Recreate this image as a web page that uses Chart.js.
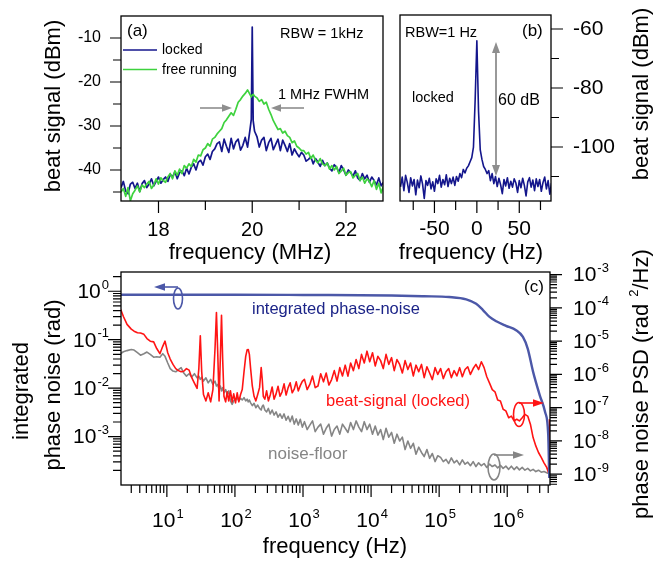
<!DOCTYPE html>
<html>
<head>
<meta charset="utf-8">
<script src="https://cdn.jsdelivr.net/npm/chart.js@4.4.1/dist/chart.umd.min.js"></script>
<style>
  html, body { margin: 0; padding: 0; background: #fff; }
  #wrap { position: relative; width: 658px; height: 561px; }
  canvas { position: absolute; left: 0; top: 0; }
</style>
</head>
<body>
<div id="wrap">
  <canvas id="chartA" width="658" height="561"></canvas>
  <canvas id="chartB" width="658" height="561"></canvas>
  <canvas id="chartC" width="658" height="561"></canvas>
</div>
<script>
// ---- panel (a): beat spectrum, RBW 1 kHz (MHz / dBm)
const freqA = [
  17.20, 17.25, 17.30, 17.35, 17.40, 17.45, 17.50, 17.55, 17.60, 17.65,
  17.70, 17.75, 17.80, 17.85, 17.90, 17.95, 18.00, 18.05, 18.10, 18.15,
  18.20, 18.25, 18.30, 18.35, 18.40, 18.45, 18.50, 18.55, 18.60, 18.65,
  18.70, 18.75, 18.80, 18.85, 18.90, 18.95, 19.00, 19.05, 19.10, 19.15,
  19.20, 19.25, 19.30, 19.35, 19.40, 19.45, 19.50, 19.55, 19.60, 19.65,
  19.70, 19.75, 19.80, 19.85, 19.90, 19.95, 19.98, 20.00, 20.02, 20.05,
  20.10, 20.15, 20.20, 20.25, 20.30, 20.35, 20.40, 20.45, 20.50, 20.55,
  20.60, 20.65, 20.70, 20.75, 20.80, 20.85, 20.90, 20.95, 21.00, 21.05,
  21.10, 21.15, 21.20, 21.25, 21.30, 21.35, 21.40, 21.45, 21.50, 21.55,
  21.60, 21.65, 21.70, 21.75, 21.80, 21.85, 21.90, 21.95, 22.00, 22.05,
  22.10, 22.15, 22.20, 22.25, 22.30, 22.35, 22.40, 22.45, 22.50, 22.55,
  22.60, 22.65, 22.70, 22.75, 22.80
];
const lockedA = [
  -44.0, -42.6, -44.8, -45.4, -43.2, -42.8, -44.2, -43.0, -44.9, -43.1,
  -42.4, -44.0, -43.2, -42.0, -43.6, -42.6, -41.6, -43.0, -42.2, -41.6,
  -42.6, -41.0, -41.6, -40.4, -42.0, -40.6, -40.2, -41.3, -39.6, -40.9,
  -39.4, -38.6, -40.0, -38.2, -37.8, -38.9, -37.0, -36.4, -37.6, -35.8,
  -35.2, -34.0, -33.6, -35.8, -33.0, -34.6, -36.0, -32.8, -35.2, -33.6,
  -33.0, -35.5, -34.4, -32.6, -34.8, -31.0, -28.5, -7.5, -28.8, -31.2,
  -32.4, -34.8, -33.2, -32.6, -35.6, -33.8, -32.8, -35.4, -34.2, -33.0,
  -35.6, -33.2, -34.4, -35.8, -34.0, -36.6, -35.2, -36.2, -37.0, -36.0,
  -36.6, -38.0, -37.6, -37.0, -38.6, -37.4, -38.2, -39.2, -37.8, -39.0,
  -38.4, -39.6, -40.2, -38.8, -39.4, -40.6, -39.0, -40.0, -41.2, -40.0,
  -40.6, -41.4, -40.2, -41.8, -42.4, -40.8, -42.0, -41.2, -42.8, -41.6,
  -42.4, -43.4, -41.8, -43.6, -42.8
];
const freeA = [
  -45.0, -44.2, -46.0, -44.0, -47.0, -45.4, -44.6, -43.6, -45.0, -43.4,
  -44.0, -43.2, -42.6, -44.2, -43.4, -42.0, -43.2, -41.8, -42.4, -42.8,
  -41.6, -40.8, -42.0, -40.2, -41.2, -39.8, -40.8, -39.0, -39.6, -38.6,
  -39.2, -37.6, -38.2, -36.6, -36.8, -35.4, -35.0, -34.0, -34.6, -33.0,
  -32.6, -31.8, -31.2, -30.6, -29.2, -28.6, -27.8, -27.0, -27.6, -26.2,
  -24.6, -24.0, -23.2, -22.6, -21.8, -22.8, -23.4, -23.0, -22.8, -23.2,
  -23.6, -24.4, -24.0, -25.0, -24.6, -26.2, -27.4, -28.8, -29.8, -30.8,
  -30.6, -31.6, -31.2, -32.2, -32.6, -33.8, -33.4, -34.6, -35.0, -35.6,
  -35.6, -36.4, -36.0, -37.4, -36.6, -37.8, -38.4, -37.4, -38.6, -39.0,
  -38.4, -39.8, -39.0, -40.0, -39.2, -40.8, -40.2, -39.6, -41.2, -40.6,
  -40.4, -41.8, -41.2, -40.8, -42.4, -41.6, -43.0, -42.0, -42.6, -43.8,
  -42.4, -44.4, -43.0, -45.2, -43.6
];
const aXMajor = [18, 20, 22];
const aXMinor = [19, 21];
const aYMajor = [-10, -20, -30, -40];
const aYMinor = [-15, -25, -35, -45];

// ---- panel (b): beat spectrum, RBW 1 Hz (Hz / dBm)
const freqB = [
  -90, -88, -86, -84, -82, -80, -78, -76, -74, -72,
  -70, -68, -66, -64, -62, -60, -58, -56, -54, -52,
  -50, -48, -46, -44, -42, -40, -38, -36, -34, -32,
  -30, -28, -26, -24, -22, -20, -18, -16, -14, -12,
  -10, -8, -6, -4, -2, 0, 2, 4, 6, 8,
  10, 12, 14, 16, 18, 20, 22, 24, 26, 28,
  30, 32, 34, 36, 38, 40, 42, 44, 46, 48,
  50, 52, 54, 56, 58, 60, 62, 64, 66, 68,
  70, 72, 74, 76, 78, 80, 82, 84, 86, 88
];
const lockedB = [
  -113.5, -110.2, -114.8, -109.6, -112.0, -115.4, -110.4, -113.2, -111.0, -116.2,
  -111.2, -113.8, -109.8, -112.6, -117.4, -111.4, -113.0, -110.6, -114.2, -111.8,
  -115.0, -110.8, -112.4, -109.6, -113.6, -111.0, -112.8, -109.4, -113.4, -110.6,
  -112.4, -110.2, -113.0, -110.0, -111.6, -109.0, -110.4, -107.6, -108.8, -107.2,
  -106.4, -105.0, -103.6, -100.0, -84.0, -64.0, -88.0, -101.0, -104.2, -106.6,
  -107.6, -109.0, -108.0, -111.4, -109.0, -112.4, -110.0, -113.4, -110.6, -112.8,
  -115.8, -111.0, -113.2, -110.4, -114.0, -111.6, -113.6, -110.8, -112.2, -115.4,
  -111.4, -113.8, -110.6, -113.0, -116.6, -111.8, -110.4, -113.6, -111.2, -114.8,
  -110.8, -113.4, -111.0, -115.0, -112.0, -110.2, -114.2, -111.4, -116.0, -112.2
];
const bXMajor = [-50, 0, 50];
const bXMinor = [-75, -25, 25, 75];
const bYMajor = [-60, -80, -100];
const bYMinor = [-70, -90, -110];

// ---- panel (c): phase noise (Hz)
const freqC = [
  2.1, 2.3, 2.6, 3.0, 3.3, 3.7, 4.1, 4.6, 5.1, 5.7, 6.4, 7.1, 7.9, 8.7, 9.4,
  10.3, 11.2, 12.3, 13.5, 14.8, 16.2, 17.7, 19.4, 21.2, 23.2, 25.4, 27.8, 29.5, 31, 32.5, 34.5, 37.5,
  40.5, 44, 47.5, 51, 53.5, 56, 58.5, 61, 63.5, 66, 69, 73, 77, 81, 86, 91, 96,
  102, 108, 114, 121, 128, 136, 144, 151, 157, 163, 170, 180, 191, 203, 216, 230, 243, 252, 261, 275,
  292, 310, 330, 352, 376, 402, 430, 460, 492, 527, 565, 605, 648, 694, 743, 796, 852, 912, 977,
  1050, 1150, 1260, 1380, 1510, 1660, 1820, 2000, 2190, 2400, 2630, 2880, 3160, 3470, 3800, 4170,
  4570, 5010, 5500, 6030, 6610, 7240, 7940, 8710, 9550,
  1.05e4, 1.15e4, 1.26e4, 1.38e4, 1.51e4, 1.66e4, 1.82e4, 2.0e4, 2.19e4, 2.4e4, 2.63e4, 2.88e4, 3.16e4,
  3.47e4, 3.8e4, 4.17e4, 4.57e4, 5.01e4, 5.5e4, 6.03e4, 6.61e4, 7.24e4, 7.94e4, 8.71e4, 9.55e4,
  1.05e5, 1.15e5, 1.26e5, 1.38e5, 1.51e5, 1.66e5, 1.82e5, 2.0e5, 2.19e5, 2.4e5, 2.63e5, 2.88e5, 3.16e5,
  3.47e5, 3.8e5, 4.17e5, 4.57e5, 5.01e5, 5.5e5, 6.03e5, 6.61e5, 7.24e5, 7.94e5, 8.71e5, 9.55e5,
  1.05e6, 1.15e6, 1.26e6, 1.38e6, 1.51e6, 1.66e6, 1.82e6, 2.0e6, 2.19e6, 2.4e6, 2.63e6, 2.88e6,
  3.16e6, 3.47e6, 3.8e6, 4.05e6, 4.17e6
];
// beat-signal (locked), rad^2/Hz
const beatPSD = [
  9.0e-5, 5.5e-5, 3.2e-5, 2.3e-5, 2.0e-5, 1.8e-5, 1.75e-5, 1.6e-5, 1.2e-5, 1.0e-5, 9.5e-6, 6.0e-6, 4.2e-6, 7.0e-6, 1.0e-5,
  4.5e-6, 2.9e-6, 2.0e-6, 1.5e-6, 1.3e-6, 1.2e-6, 1.25e-6, 1.5e-6, 1.35e-6, 8e-7, 5.5e-7, 3.8e-7, 1.5e-6, 1.45e-5, 1.2e-6, 2.5e-7, 1.6e-7,
  2.8e-7, 1.5e-7, 3.5e-7, 6e-6, 7.2e-5, 4e-6, 1.6e-7, 3e-6, 6e-5, 3e-6, 2.2e-7, 1.5e-7, 3e-7, 1.6e-7, 3.2e-7, 1.5e-7, 2.6e-7,
  1.4e-7, 2.8e-7, 1.5e-7, 2.5e-7, 3.5e-7, 1.2e-6, 3.5e-6, 5.5e-6, 5.6e-6, 4e-6, 1.5e-6, 4.5e-7, 2.2e-7, 1.6e-7, 2.5e-7, 4e-7, 1.6e-6, 7e-7, 2.2e-7, 1.8e-7,
  3.2e-7, 1.6e-7, 2.4e-7, 4.2e-7, 1.8e-7, 2.6e-7, 4.4e-7, 2.2e-7, 3.0e-7, 5.2e-7, 2.4e-7, 4.0e-7, 5.6e-7, 2.8e-7, 3.6e-7, 6.0e-7, 3.2e-7, 4.6e-7, 6.2e-7,
  7.1e-7, 3.5e-7, 5e-7, 8.9e-7, 4e-7, 4.5e-7, 1.05e-6, 6e-7, 1.1e-6, 4.8e-7, 7e-7, 1.3e-6, 6.3e-7, 1.6e-6, 9e-7, 1.9e-6,
  8.9e-7, 2.2e-6, 1.3e-6, 2.8e-6, 1.5e-6, 4e-6, 2.2e-6, 5e-6, 2.4e-6,
  4.5e-6, 1.8e-6, 3.5e-6, 2.6e-6, 1.5e-6, 4e-6, 2e-6, 3.2e-6, 1.3e-6, 2.8e-6, 2e-6, 1.1e-6, 2.6e-6,
  1.4e-6, 2.2e-6, 9e-7, 1.9e-6, 1.2e-6, 2.0e-6, 8e-7, 1.7e-6, 1.1e-6, 7e-7, 1.6e-6, 1.0e-6,
  1.5e-6, 7.5e-7, 1.2e-6, 1.5e-6, 8e-7, 1.3e-6, 9e-7, 1.6e-6, 8.5e-7, 1.4e-6, 1.7e-6, 1e-6, 1.5e-6,
  2.0e-6, 1.4e-6, 2.4e-6, 1.6e-6, 8.5e-7, 5.5e-7, 3.5e-7, 3e-7, 1.7e-7, 1.6e-7, 9e-8, 8e-8,
  5e-8, 5.6e-8, 4e-8, 4.5e-8, 4e-8, 5e-8, 6.3e-8, 5.6e-8, 3.2e-8, 1.26e-8, 7.1e-9, 4.5e-9,
  3.2e-9, 2.2e-9, 1.6e-9, 1.1e-9, 4.5e-8
];
// noise-floor, rad^2/Hz
const floorPSD = [
  4.2e-6, 4.8e-6, 5.2e-6, 5.6e-6, 5.4e-6, 4.5e-6, 3.8e-6, 4.2e-6, 4.7e-6, 4e-6, 3.3e-6, 3.4e-6, 3.3e-6, 4.2e-6, 3.5e-6,
  2.2e-6, 1.5e-6, 1.26e-6, 1.2e-6, 1.4e-6, 1.6e-6, 1.1e-6, 8.9e-7, 1.05e-6, 8.3e-7, 1.05e-6, 7.9e-7, 8.9e-7, 7.1e-7, 8.3e-7, 6.3e-7, 7.9e-7,
  5.6e-7, 7.1e-7, 5e-7, 6.3e-7, 4.5e-7, 5e-7, 3.5e-7, 4.5e-7, 3.2e-7, 4e-7, 2.8e-7, 3.5e-7, 2.5e-7, 3.2e-7, 1.6e-7, 1.26e-7, 1.6e-7,
  1.8e-7, 2e-7, 1.6e-7, 1.9e-7, 1.7e-7, 2e-7, 1.6e-7, 1.8e-7, 1.5e-7, 1.7e-7, 1.4e-7, 1.15e-7, 1.35e-7, 1e-7, 1.2e-7, 9.5e-8, 8.5e-8, 1.1e-7, 1.2e-7, 8.5e-8,
  7.5e-8, 9.5e-8, 6.5e-8, 8.5e-8, 6e-8, 7.5e-8, 5.2e-8, 6.5e-8, 4.8e-8, 6.5e-8, 4.2e-8, 5.5e-8, 3.8e-8, 5.6e-8, 3.2e-8, 4.6e-8, 3e-8, 4.5e-8, 2.6e-8,
  3.8e-8, 2.2e-8, 3e-8, 4e-8, 1.9e-8, 2.6e-8, 3.2e-8, 1.6e-8, 2.4e-8, 3.2e-8, 1.4e-8, 2.2e-8, 2.8e-8, 1.6e-8, 3.2e-8, 2.4e-8,
  1.8e-8, 3.6e-8, 2.2e-8, 4e-8, 2.6e-8, 1.9e-8, 3.8e-8, 2.2e-8, 3.2e-8,
  1.6e-8, 2.8e-8, 1.5e-8, 2.2e-8, 1.1e-8, 2.4e-8, 1.3e-8, 1.8e-8, 8.5e-9, 1.6e-8, 1.0e-8, 1.3e-8, 5.5e-9,
  1.0e-8, 6e-9, 8.5e-9, 4e-9, 6.5e-9, 4.5e-9, 3.4e-9, 5.5e-9, 3e-9, 4.2e-9, 2.4e-9, 3.6e-9,
  3.2e-9, 2.4e-9, 2.8e-9, 2.1e-9, 3.1e-9, 2.2e-9, 2.6e-9, 1.9e-9, 2.7e-9, 2.0e-9, 2.3e-9, 1.8e-9, 2.4e-9,
  1.7e-9, 2.2e-9, 1.8e-9, 2.1e-9, 1.6e-9, 2.0e-9, 1.7e-9, 1.9e-9, 1.55e-9, 1.85e-9, 1.5e-9, 1.75e-9,
  1.4e-9, 1.74e-9, 1.38e-9, 1.66e-9, 1.35e-9, 1.6e-9, 1.32e-9, 1.5e-9, 1.26e-9, 1.4e-9, 1.2e-9, 1.32e-9,
  1.15e-9, 1.2e-9, 1.1e-9, 1.05e-9, 1e-9
];
// integrated phase-noise, rad
const freqInt = [2.1, 100, 1000, 2e4, 6e4, 1.4e5, 2.5e5, 3.5e5, 4.4e5, 5.5e5, 6.9e5, 9.6e5,
  1.35e6, 1.7e6, 2.0e6, 2.4e6, 3.0e6, 3.6e6, 4.0e6, 4.15e6];
const intNoise = [0.85, 0.85, 0.84, 0.82, 0.79, 0.76, 0.68, 0.55, 0.41, 0.295, 0.24, 0.193,
  0.157, 0.114, 0.0655, 0.0217, 0.0072, 0.0032, 0.0011, 1.4e-4];
const cXExp = [1, 2, 3, 4, 5, 6];
const cYExp = [0, -1, -2, -3];
const cY2Exp = [-3, -4, -5, -6, -7, -8, -9];

// ---- colours and fonts
const NAVY = '#14168c';
const GREEN = '#3ed23e';
const BLUE = '#4c58a8';
const BLUE_TEXT = '#1c2488';
const RED = '#ff1414';
const GRAY = '#858585';
const ARROW = '#8e8e8e';
const FONT = '"Liberation Sans", Arial, Helvetica, sans-serif';

function font(px) { return px + 'px ' + FONT; }
function pts(xs, ys) { return xs.map((x, i) => ({ x: x, y: ys[i] })); }

function label(ctx, str, x, y, size, color, align, rot) {
  ctx.save();
  ctx.font = font(size);
  ctx.fillStyle = color || '#000';
  ctx.textAlign = align || 'left';
  ctx.textBaseline = 'middle';
  ctx.translate(x, y);
  if (rot) ctx.rotate(rot);
  ctx.fillText(str, 0, 0);
  ctx.restore();
}

function frame(ctx, a) {
  ctx.save();
  ctx.strokeStyle = '#000';
  ctx.lineWidth = 1.3;
  ctx.strokeRect(a.left, a.top, a.right - a.left, a.bottom - a.top);
  ctx.restore();
}

// outward tick marks; dir = -1 (left/up) or 1 (right/down)
function marks(ctx, scale, base, dir, values, len) {
  ctx.save();
  ctx.strokeStyle = '#000';
  ctx.lineWidth = 1.2;
  ctx.beginPath();
  values.forEach(v => {
    if (v < scale.min || v > scale.max) return;
    const p = scale.getPixelForValue(v);
    if (scale.isHorizontal()) { ctx.moveTo(p, base); ctx.lineTo(p, base + dir * len); }
    else { ctx.moveTo(base, p); ctx.lineTo(base + dir * len, p); }
  });
  ctx.stroke();
  ctx.restore();
}

function logMinors(scale) {
  const out = [];
  for (let e = Math.floor(Math.log10(scale.min)); e <= Math.ceil(Math.log10(scale.max)); e++) {
    for (let m = 2; m <= 9; m++) out.push(m * Math.pow(10, e));
  }
  return out;
}

function powLabel(ctx, exp, x, y, align) {
  ctx.save();
  ctx.fillStyle = '#000';
  ctx.textBaseline = 'middle';
  ctx.textAlign = 'left';
  ctx.font = font(21);
  const w1 = ctx.measureText('10').width;
  ctx.font = font(13);
  const sup = String(exp);
  const w2 = ctx.measureText(sup).width;
  const total = w1 + 1 + w2;
  const x0 = align === 'right' ? x - total : (align === 'center' ? x - total / 2 : x);
  ctx.font = font(21);
  ctx.fillText('10', x0, y);
  ctx.font = font(13);
  ctx.fillText(sup, x0 + w1 + 1, y - 7);
  ctx.restore();
}

function arrow(ctx, x1, y1, x2, y2, color, lw, head, half) {
  const ang = Math.atan2(y2 - y1, x2 - x1);
  ctx.save();
  ctx.strokeStyle = color;
  ctx.fillStyle = color;
  ctx.lineWidth = lw;
  ctx.beginPath();
  ctx.moveTo(x1, y1);
  ctx.lineTo(x2 - Math.cos(ang) * head * 0.8, y2 - Math.sin(ang) * head * 0.8);
  ctx.stroke();
  ctx.translate(x2, y2);
  ctx.rotate(ang);
  ctx.beginPath();
  ctx.moveTo(0, 0);
  ctx.lineTo(-head, -half);
  ctx.lineTo(-head, half);
  ctx.closePath();
  ctx.fill();
  ctx.restore();
}

function ellipse(ctx, cx, cy, rx, ry, color, lw) {
  ctx.save();
  ctx.strokeStyle = color;
  ctx.lineWidth = lw;
  ctx.beginPath();
  ctx.ellipse(cx, cy, rx, ry, 0, 0, Math.PI * 2);
  ctx.stroke();
  ctx.restore();
}

function axis(type, min, max, fit) {
  return {
    type: type, min: min, max: max,
    ticks: { display: false },
    grid: { display: false },
    border: { display: false },
    afterFit: fit
  };
}

function options(padding, scales) {
  return {
    responsive: false,
    animation: false,
    devicePixelRatio: 1,
    events: [],
    layout: { padding: padding },
    plugins: { legend: { display: false }, tooltip: { enabled: false } },
    elements: { point: { radius: 0 }, line: { tension: 0, borderJoinStyle: 'round' } },
    scales: scales
  };
}

// ---- panel (a)
const panelA = {
  id: 'panelA',
  afterDraw(chart) {
    const ctx = chart.ctx, a = chart.chartArea, sx = chart.scales.x, sy = chart.scales.y;
    frame(ctx, a);
    marks(ctx, sy, a.left, -1, aYMajor, 11);
    marks(ctx, sy, a.left, -1, aYMinor, 8);
    marks(ctx, sx, a.bottom, 1, aXMajor, 12);
    marks(ctx, sx, a.bottom, 1, aXMinor, 9);
    aYMajor.forEach(v => label(ctx, String(v), 101, sy.getPixelForValue(v), 16, '#000', 'right'));
    aXMajor.forEach(v => label(ctx, String(v), sx.getPixelForValue(v), 230, 20, '#000', 'center'));
    label(ctx, 'beat signal (dBm)', 54, 106, 22, '#000', 'center', -Math.PI / 2);
    label(ctx, 'frequency (MHz)', 250, 253, 22, '#000', 'center');

    label(ctx, '(a)', 127, 31, 17);
    label(ctx, 'RBW = 1kHz', 280, 34, 14.5);
    // legend
    const ds = chart.data.datasets;
    ctx.save();
    ctx.lineWidth = 1.6;
    ctx.strokeStyle = ds[1].borderColor;
    ctx.beginPath(); ctx.moveTo(123, 50); ctx.lineTo(157, 50); ctx.stroke();
    ctx.strokeStyle = ds[0].borderColor;
    ctx.beginPath(); ctx.moveTo(123, 69.5); ctx.lineTo(157, 69.5); ctx.stroke();
    ctx.restore();
    label(ctx, ds[1].label, 162, 50, 14);
    label(ctx, ds[0].label, 162, 70, 14);
    // FWHM markers
    label(ctx, '1 MHz FWHM', 278, 95, 14.5);
    arrow(ctx, 200, 108, 232, 108, ARROW, 1.6, 10, 3.8);
    arrow(ctx, 304, 108, 271, 108, ARROW, 1.6, 10, 3.8);
  }
};

new Chart(document.getElementById('chartA'), {
  type: 'line',
  data: {
    datasets: [
      { label: 'free running', data: pts(freqA, freeA), borderColor: GREEN, borderWidth: 1.7, order: 0 },
      { label: 'locked', data: pts(freqA, lockedA), borderColor: NAVY, borderWidth: 1.7, order: 1 }
    ]
  },
  options: options({ left: 0, top: 16, right: 275, bottom: 311 }, {
    x: axis('linear', 17.2, 22.79, s => { s.height = 49; }),
    y: axis('linear', -47.05, -5, s => { s.width = 121; })
  }),
  plugins: [panelA]
});

// ---- panel (b)
const panelB = {
  id: 'panelB',
  afterDraw(chart) {
    const ctx = chart.ctx, a = chart.chartArea, sx = chart.scales.x, sy = chart.scales.y;
    frame(ctx, a);
    marks(ctx, sy, a.right, 1, bYMajor, 12);
    marks(ctx, sy, a.right, 1, bYMinor, 8);
    marks(ctx, sx, a.bottom, 1, bXMajor, 12);
    marks(ctx, sx, a.bottom, 1, bXMinor, 9);
    bYMajor.forEach(v => label(ctx, String(v), 573, sy.getPixelForValue(v), 21, '#000', 'left'));
    bXMajor.forEach(v => label(ctx, String(v), sx.getPixelForValue(v), 229, 21, '#000', 'center'));
    label(ctx, 'frequency (Hz)', 471, 253, 22, '#000', 'center');
    label(ctx, 'beat signal (dBm)', 642, 94, 22, '#000', 'center', -Math.PI / 2);

    label(ctx, 'RBW=1 Hz', 405, 33, 14.5);
    label(ctx, '(b)', 522, 31, 17);
    label(ctx, 'locked', 412, 98, 14.5);
    label(ctx, '60 dB', 498, 101, 16);
    arrow(ctx, 496, 110, 496, 42, ARROW, 1.8, 11, 4);
    arrow(ctx, 496, 110, 496, 176, ARROW, 1.8, 11, 4);
  }
};

new Chart(document.getElementById('chartB'), {
  type: 'line',
  data: {
    datasets: [
      { label: 'locked', data: pts(freqB, lockedB), borderColor: NAVY, borderWidth: 1.6 }
    ]
  },
  options: options({ left: 400, top: 15, right: 0, bottom: 311 }, {
    x: axis('linear', -90.6, 87.4, s => { s.height = 49; }),
    y: Object.assign(axis('linear', -118.3, -55.25, s => { s.width = 107; }), { position: 'right' })
  }),
  plugins: [panelB]
});

// ---- panel (c)
const panelC = {
  id: 'panelC',
  afterDraw(chart) {
    const ctx = chart.ctx, a = chart.chartArea;
    const sx = chart.scales.x, sy = chart.scales.y, sy2 = chart.scales.y2;
    frame(ctx, a);
    marks(ctx, sy, a.left, -1, logMinors(sy), 8);
    marks(ctx, sy, a.left, -1, cYExp.map(e => Math.pow(10, e)), 13);
    marks(ctx, sy2, a.right, 1, logMinors(sy2), 7);
    marks(ctx, sy2, a.right, 1, cY2Exp.map(e => Math.pow(10, e)), 12);
    marks(ctx, sx, a.bottom, 1, logMinors(sx), 8);
    marks(ctx, sx, a.bottom, 1, cXExp.map(e => Math.pow(10, e)), 12);
    cYExp.forEach(e => powLabel(ctx, e, 109, sy.getPixelForValue(Math.pow(10, e)) + 1, 'right'));
    cY2Exp.forEach(e => powLabel(ctx, e, 573, sy2.getPixelForValue(Math.pow(10, e)) + 1, 'left'));
    cXExp.forEach(e => powLabel(ctx, e, sx.getPixelForValue(Math.pow(10, e)) + 1, 521, 'center'));

    label(ctx, 'frequency (Hz)', 335, 547, 22, '#000', 'center');
    label(ctx, 'integrated', 22, 391, 22, '#000', 'center', -Math.PI / 2);
    label(ctx, 'phase noise (rad)', 54, 385, 22, '#000', 'center', -Math.PI / 2);
    // right title with superscript
    ctx.save();
    ctx.translate(642, 519);
    ctx.rotate(-Math.PI / 2);
    ctx.fillStyle = '#000';
    ctx.textBaseline = 'middle';
    ctx.textAlign = 'left';
    ctx.font = font(22);
    const main = 'phase noise PSD (rad';
    ctx.fillText(main, 0, 0);
    let tx = ctx.measureText(main).width + 7;
    ctx.font = font(13);
    ctx.fillText('2', tx, -8);
    tx += ctx.measureText('2').width;
    ctx.font = font(22);
    ctx.fillText('/Hz)', tx, 0);
    ctx.restore();

    label(ctx, '(c)', 524, 287, 17);
    label(ctx, 'integrated phase-noise', 252, 309, 16.5, BLUE_TEXT);
    label(ctx, 'beat-signal (locked)', 326, 401, 16.5, RED);
    label(ctx, 'noise-floor', 268, 454, 17, GRAY);

    ellipse(ctx, 178, 298.5, 4.5, 10.5, BLUE, 1.6);
    arrow(ctx, 178, 287, 154, 287, BLUE, 1.6, 11, 3.8);
    ellipse(ctx, 519, 414.5, 5.5, 12, RED, 1.6);
    arrow(ctx, 519, 403, 544, 403, RED, 1.6, 11, 3.8);
    ellipse(ctx, 494, 467, 6, 13, GRAY, 1.6);
    arrow(ctx, 494, 455, 524, 455, GRAY, 1.6, 11, 3.8);
  }
};

new Chart(document.getElementById('chartC'), {
  type: 'line',
  data: {
    datasets: [
      { label: 'integrated phase-noise', data: pts(freqInt, intNoise), yAxisID: 'y',
        borderColor: BLUE, borderWidth: 2.4, cubicInterpolationMode: 'monotone', order: 0 },
      { label: 'beat-signal (locked)', data: pts(freqC, beatPSD), yAxisID: 'y2',
        borderColor: RED, borderWidth: 1.6, order: 1 },
      { label: 'noise-floor', data: pts(freqC, floorPSD), yAxisID: 'y2',
        borderColor: GRAY, borderWidth: 1.6, order: 2 }
    ]
  },
  options: options({ left: 0, top: 272, right: 0, bottom: 0 }, {
    x: axis('logarithmic', 2.12, 4.25e6, s => { s.height = 76; }),
    y: Object.assign(axis('logarithmic', 1e-4, 2.5, s => { s.width = 121; }), { position: 'left' }),
    y2: Object.assign(axis('logarithmic', 4.74e-10, 1.2e-3, s => { s.width = 108; }), { position: 'right' })
  }),
  plugins: [panelC]
});
</script>
</body>
</html>
